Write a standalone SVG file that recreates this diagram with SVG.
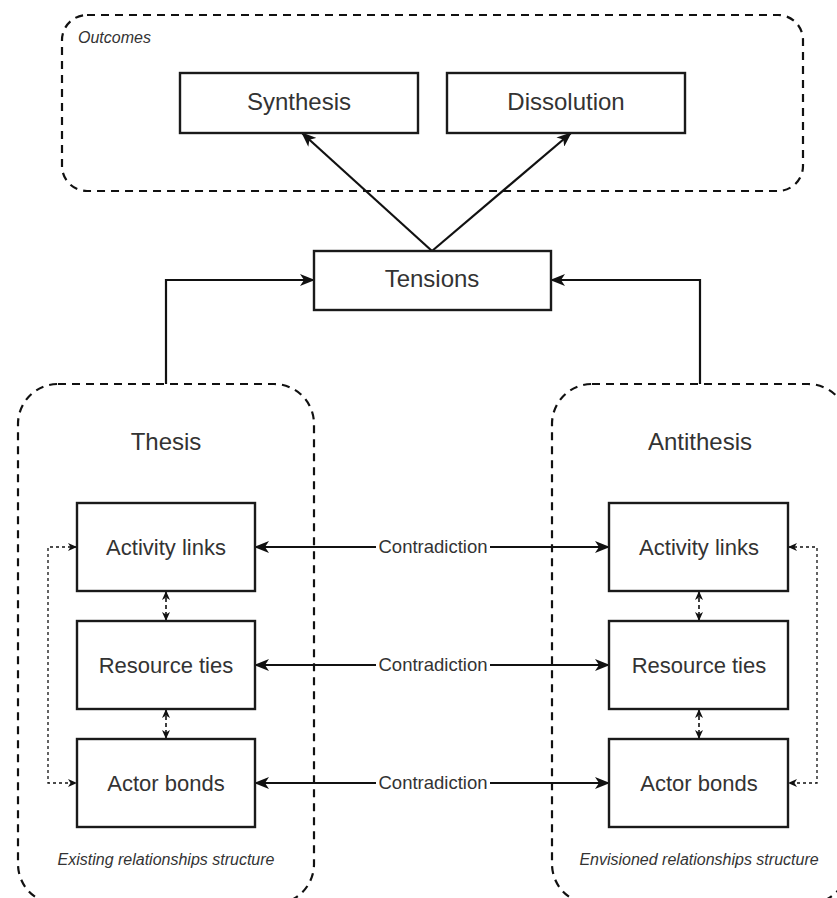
<svg xmlns="http://www.w3.org/2000/svg" width="837" height="898" viewBox="0 0 837 898">
<defs>
<style>
.container{fill:none;stroke:#111;stroke-width:2.2;stroke-dasharray:8,6}
.box{fill:#fff;stroke:#1a1a1a;stroke-width:2.4}
.t{font-family:"Liberation Sans",Arial,sans-serif;fill:#333;text-anchor:middle}
.big{font-size:24px}
.mid{font-size:22px}
.con{font-size:18.5px}
.it{font-family:"Liberation Sans",Arial,sans-serif;font-style:italic;fill:#333;font-size:16px}
.edge{fill:none;stroke:#111;stroke-width:2.2}
.thin{fill:none;stroke:#111;stroke-width:1.3;stroke-dasharray:3,3}
.lbl{fill:#fff}
</style>
<marker id="ah" viewBox="0 0 15 12" refX="14" refY="6" markerWidth="15" markerHeight="12" markerUnits="userSpaceOnUse" orient="auto-start-reverse">
<path d="M0,0 L15,6 L0,12 L4,6 Z" fill="#111"/>
</marker>
<marker id="sh" viewBox="0 0 9 8" refX="9" refY="4" markerWidth="9" markerHeight="8" markerUnits="userSpaceOnUse" orient="auto-start-reverse">
<path d="M0,0 L9,4 L0,8 L2.5,4 Z" fill="#111"/>
</marker>
</defs>
<rect width="837" height="898" fill="#fff"/>

<g id="outcomes">
<rect class="container" x="62" y="15" width="741" height="176" rx="25"/>
<text class="it" x="78" y="43">Outcomes</text>
</g>
<g id="thesis">
<rect class="container" x="18" y="384" width="296" height="520" rx="40"/>
<text class="t big" x="166" y="450">Thesis</text>
<text class="it" x="166" y="865" text-anchor="middle">Existing relationships structure</text>
</g>
<g id="antithesis">
<rect class="container" x="552" y="384" width="296" height="520" rx="40"/>
<text class="t big" x="700" y="450">Antithesis</text>
<text class="it" x="699" y="865" text-anchor="middle">Envisioned relationships structure</text>
</g>

<g id="connectors">
<path class="edge" d="M432,251 L302,133" marker-end="url(#ah)"/>
<path class="edge" d="M432,251 L571,133" marker-end="url(#ah)"/>
<path class="edge" d="M166,384 V280 H314" marker-end="url(#ah)"/>
<path class="edge" d="M700,384 V280 H551" marker-end="url(#ah)"/>
<path class="edge" d="M255,547 H609" marker-start="url(#ah)" marker-end="url(#ah)"/>
<path class="edge" d="M255,665 H609" marker-start="url(#ah)" marker-end="url(#ah)"/>
<path class="edge" d="M255,783 H609" marker-start="url(#ah)" marker-end="url(#ah)"/>
<path class="edge" style="stroke-width:1.6;stroke-dasharray:4,3" d="M166,591 V621" marker-start="url(#sh)" marker-end="url(#sh)"/>
<path class="edge" style="stroke-width:1.6;stroke-dasharray:4,3" d="M166,709 V739" marker-start="url(#sh)" marker-end="url(#sh)"/>
<path class="edge" style="stroke-width:1.6;stroke-dasharray:4,3" d="M699,591 V621" marker-start="url(#sh)" marker-end="url(#sh)"/>
<path class="edge" style="stroke-width:1.6;stroke-dasharray:4,3" d="M699,709 V739" marker-start="url(#sh)" marker-end="url(#sh)"/>
<path class="thin" d="M77,547 H48 V783 H77" marker-start="url(#sh)" marker-end="url(#sh)"/>
<path class="thin" d="M788,547 H817 V783 H788" marker-start="url(#sh)" marker-end="url(#sh)"/>
<rect class="lbl" x="376" y="537" width="114" height="20"/>
<text class="t con" x="433" y="553">Contradiction</text>
<rect class="lbl" x="376" y="655" width="114" height="20"/>
<text class="t con" x="433" y="671">Contradiction</text>
<rect class="lbl" x="376" y="773" width="114" height="20"/>
<text class="t con" x="433" y="789">Contradiction</text>
</g>

<g id="synthesis">
<rect class="box" x="180" y="73" width="238" height="60"/>
<text class="t big" x="299" y="110">Synthesis</text>
</g>
<g id="dissolution">
<rect class="box" x="447" y="73" width="238" height="60"/>
<text class="t big" x="566" y="110">Dissolution</text>
</g>
<g id="tensions">
<rect class="box" x="314" y="251" width="237" height="59"/>
<text class="t big" x="432" y="287">Tensions</text>
</g>
<g id="thesis-activity">
<rect class="box" x="77" y="503" width="178" height="88"/>
<text class="t mid" x="166" y="555">Activity links</text>
</g>
<g id="thesis-resource">
<rect class="box" x="77" y="621" width="178" height="88"/>
<text class="t mid" x="166" y="673">Resource ties</text>
</g>
<g id="thesis-actor">
<rect class="box" x="77" y="739" width="178" height="88"/>
<text class="t mid" x="166" y="791">Actor bonds</text>
</g>
<g id="anti-activity">
<rect class="box" x="609" y="503" width="179" height="88"/>
<text class="t mid" x="699" y="555">Activity links</text>
</g>
<g id="anti-resource">
<rect class="box" x="609" y="621" width="179" height="88"/>
<text class="t mid" x="699" y="673">Resource ties</text>
</g>
<g id="anti-actor">
<rect class="box" x="609" y="739" width="179" height="88"/>
<text class="t mid" x="699" y="791">Actor bonds</text>
</g>
</svg>
